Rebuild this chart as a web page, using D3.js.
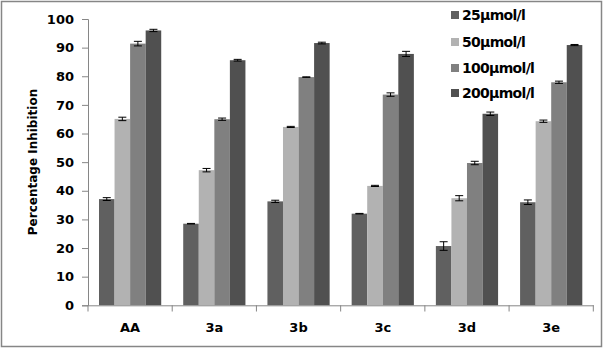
<!DOCTYPE html>
<html><head><meta charset="utf-8">
<script src="https://cdn.jsdelivr.net/npm/d3@7"></script>
<style>body{margin:0;background:#fff}svg{display:block}</style>
</head><body>
<script>
const categories = ["AA","3a","3b","3c","3d","3e"];
const seriesNames = ["25μmol/l","50μmol/l","100μmol/l","200μmol/l"];
const s25  = [37.1, 28.5, 36.3, 32.0, 20.7, 36.0];
const s50  = [65.1, 47.2, 62.3, 41.7, 37.4, 64.3];
const s100 = [91.4, 65.0, 79.7, 73.6, 49.7, 77.9];
const s200 = [96.0, 85.6, 91.6, 87.8, 66.9, 90.9];
const e25  = [0.5, 0.1, 0.4, 0.1, 1.5, 0.8];
const e50  = [0.6, 0.6, 0.2, 0.2, 0.9, 0.4];
const e100 = [0.8, 0.4, 0.1, 0.6, 0.6, 0.4];
const e200 = [0.4, 0.3, 0.3, 0.9, 0.6, 0.2];
const yTicks = [0,10,20,30,40,50,60,70,80,90,100];
const colors = ["#606060","#b2b2b2","#808080","#505050"];

const values = [s25,s50,s100,s200], errs = [e25,e50,e100,e200];
const W=603,H=348;
const svg = d3.select("body").append("svg").attr("width",W).attr("height",H);
svg.append("rect").attr("x",1.5).attr("y",1.5).attr("width",W-3).attr("height",H-3)
  .attr("fill","#fff").attr("stroke","#868686").attr("stroke-width",1.5);

const x0 = d3.scaleBand().domain(categories).range([88,593.3]).paddingInner(0).paddingOuter(0);
const x1 = d3.scaleBand().domain(d3.range(4)).range([11, x0.bandwidth()-11]).padding(0);
const y = d3.scaleLinear().domain([0,100]).range([305.3,19]);

const font = "'DejaVu Sans', Verdana, sans-serif";

categories.forEach((c,i)=>{
  const g = svg.append("g");
  values.forEach((arr,j)=>{
    const bx = x0(c)+x1(j);
    g.append("rect").attr("x",bx).attr("y",y(arr[i])).attr("width",x1.bandwidth())
      .attr("height",y(0)-y(arr[i])).attr("fill",colors[j]);
    const cx = bx + x1.bandwidth()/2, e = errs[j][i];
    g.append("line").attr("x1",cx).attr("x2",cx).attr("y1",y(arr[i]+e)).attr("y2",y(arr[i]-e)).attr("stroke","#000").attr("stroke-width",1);
    [arr[i]+e, arr[i]-e].forEach(v=>{
      g.append("line").attr("x1",cx-4).attr("x2",cx+4).attr("y1",y(v)).attr("y2",y(v)).attr("stroke","#000").attr("stroke-width",1);
    });
  });
});

// y axis
const yAxis = svg.append("g").attr("transform","translate(88,0)")
  .call(d3.axisLeft(y).tickValues(yTicks).tickSize(6).tickPadding(8));
yAxis.select(".domain").attr("stroke","#868686");
yAxis.selectAll(".tick line").attr("stroke","#868686");
yAxis.selectAll("text").attr("font-family",font).attr("font-weight","bold").attr("font-size",13).attr("fill","#000");

// x axis
const xAxis = svg.append("g").attr("transform","translate(0,305.3)")
  .call(d3.axisBottom(x0).tickSize(0).tickPadding(17));
xAxis.select(".domain").attr("stroke","#868686");
xAxis.selectAll("text").attr("font-family",font).attr("font-weight","bold").attr("font-size",13).attr("fill","#000");
const bounds = categories.map(c=>x0(c)).concat([x0.range()[1]]);
svg.append("g").selectAll("line").data(bounds).join("line")
  .attr("x1",d=>d).attr("x2",d=>d).attr("y1",305.3).attr("y2",311.5).attr("stroke","#868686");

svg.append("text").attr("transform","translate(37,162) rotate(-90)")
  .attr("text-anchor","middle").attr("font-family",font).attr("font-weight","bold").attr("font-size",12)
  .text("Percentage Inhibition");

// legend
const leg = svg.append("g");
seriesNames.forEach((n,j)=>{
  const ly = [15,42,68,93][j];
  leg.append("rect").attr("x",451).attr("y",ly-4).attr("width",8).attr("height",8).attr("fill",colors[j]);
  leg.append("text").attr("x",462).attr("y",ly+5).attr("font-family",font).attr("font-weight","bold")
    .attr("font-size",14).attr("letter-spacing",-0.7).text(n);
});
</script>
</body></html>
